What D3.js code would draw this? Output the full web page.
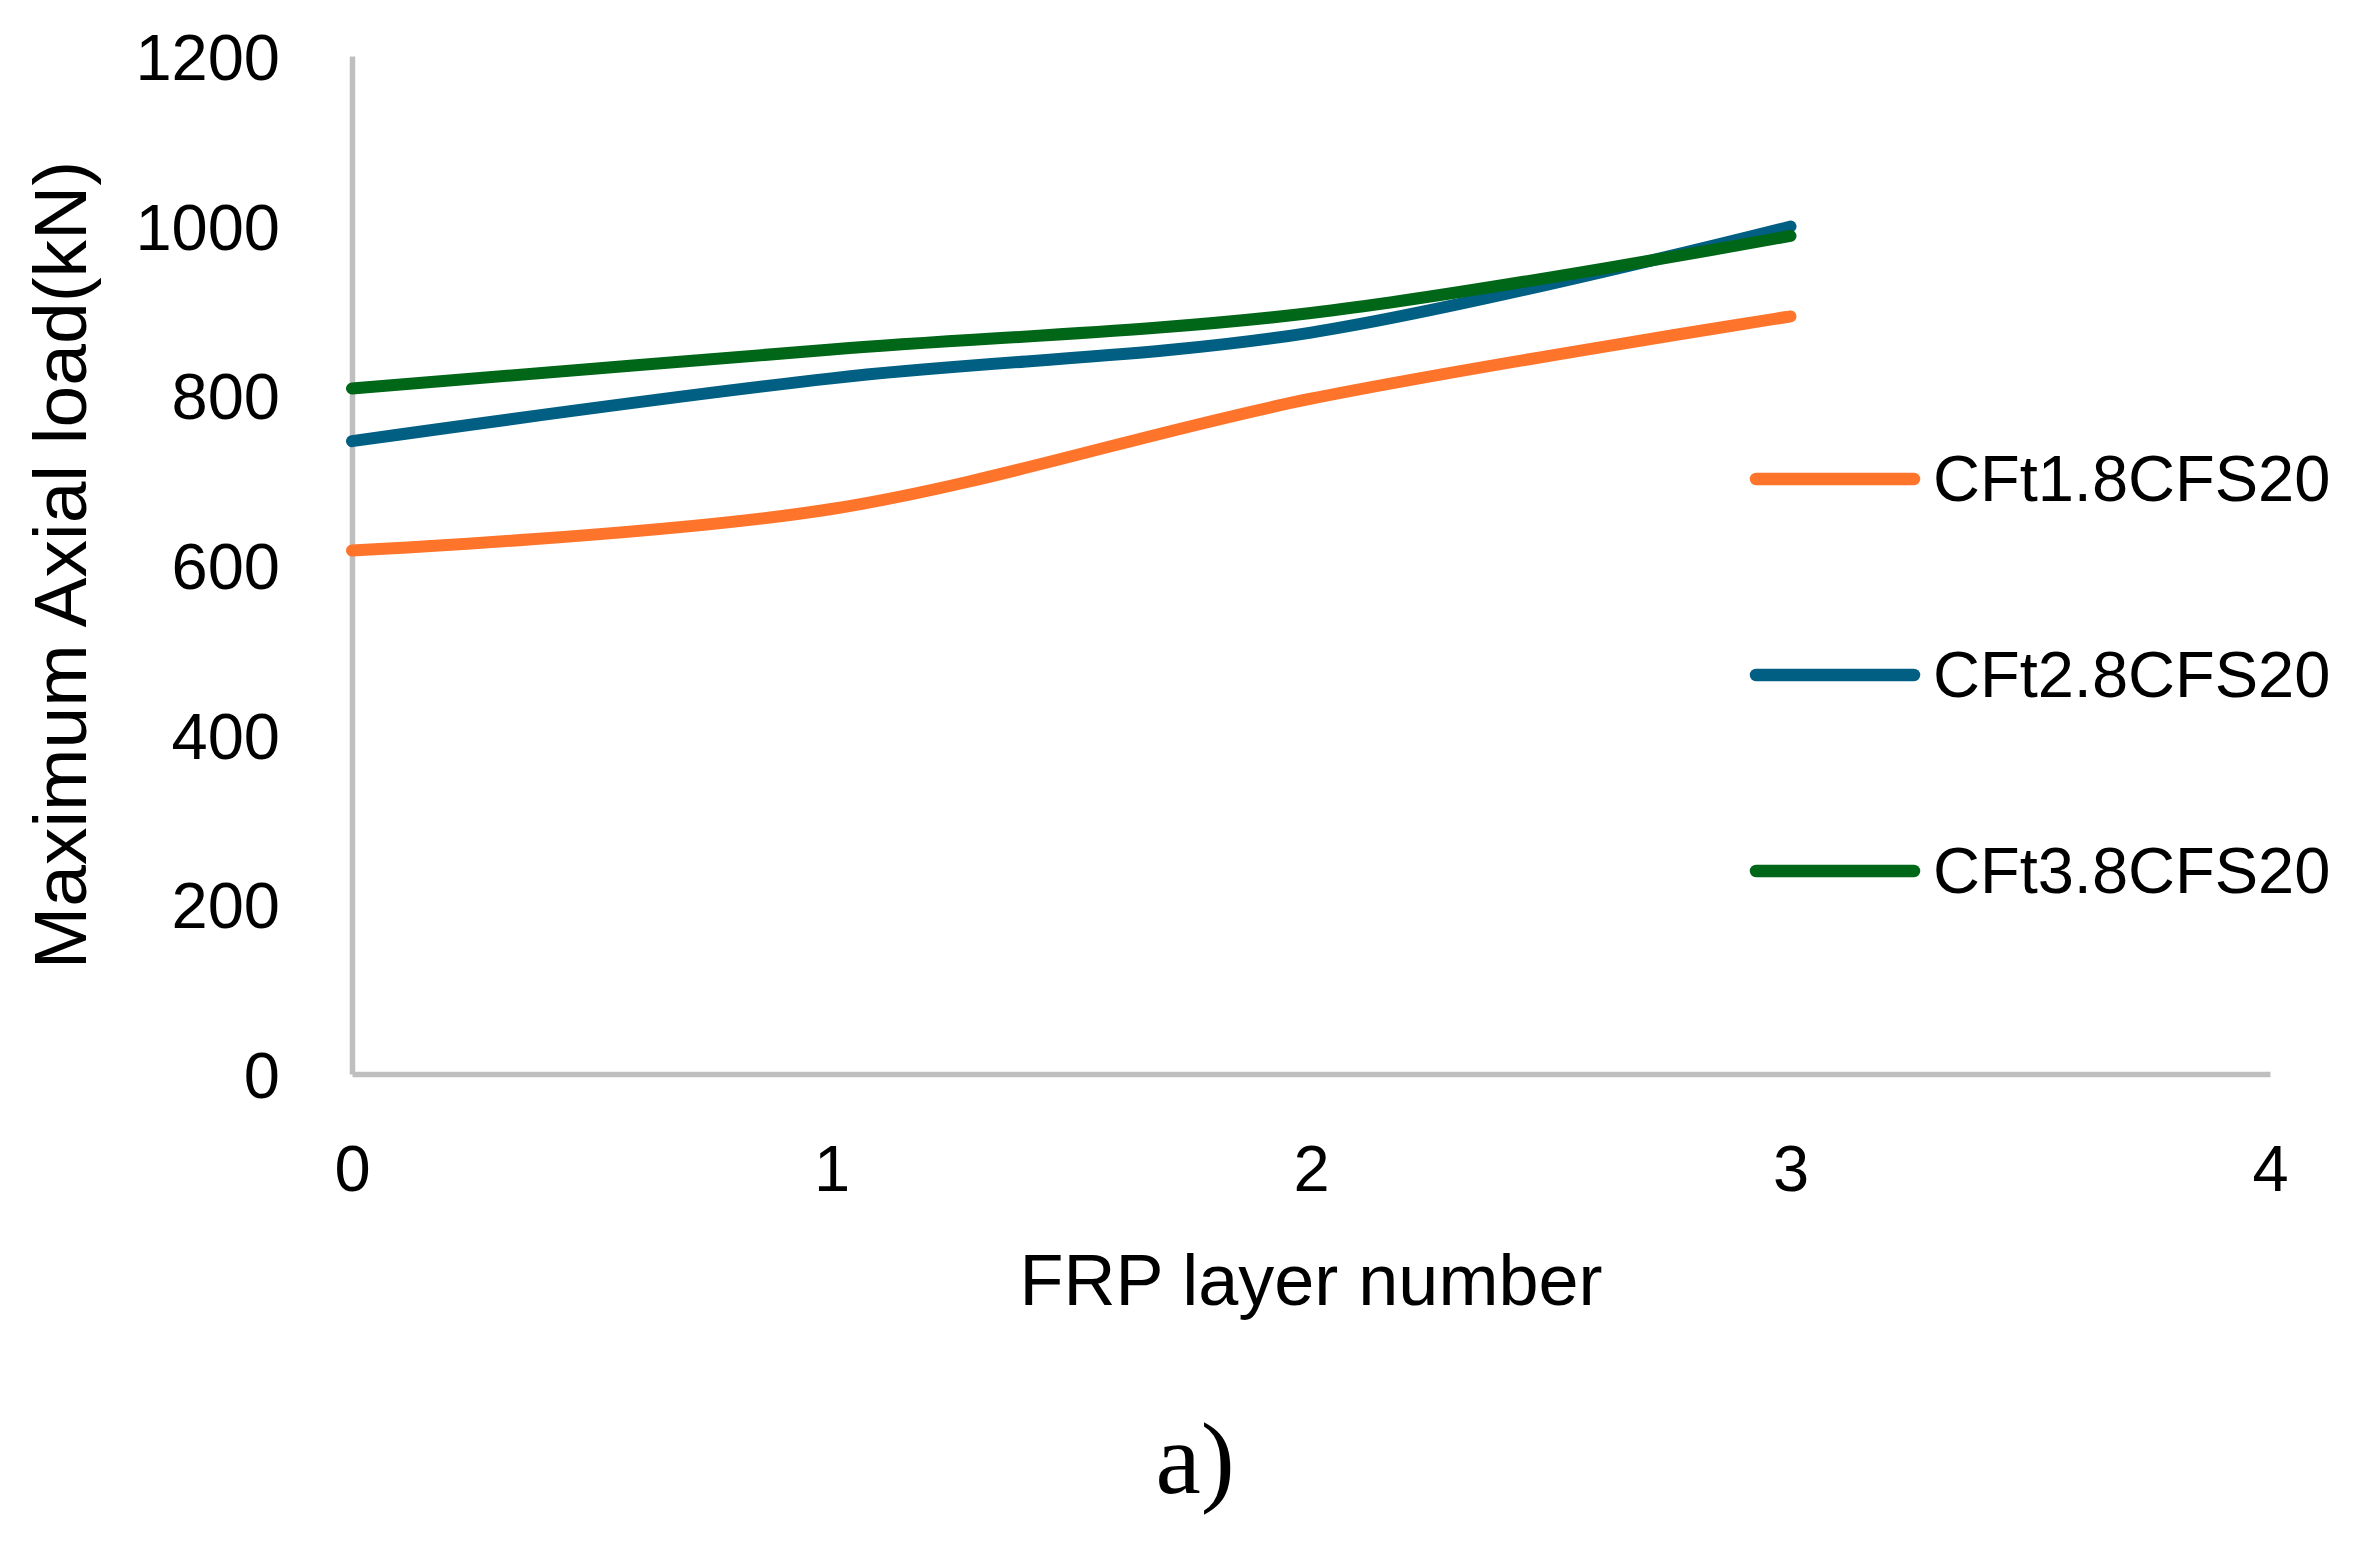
<!DOCTYPE html>
<html>
<head>
<meta charset="utf-8">
<script src="https://cdn.jsdelivr.net/npm/d3@7"></script>
<style>
  html, body { margin: 0; padding: 0; background: #ffffff; }
  svg { display: block; }
</style>
</head>
<body>
<div id="chart"></div>
<script>
// ---- data ----
const layers = [0, 1, 2, 3];
const seriesNames = ["CFt1.8CFS20", "CFt2.8CFS20", "CFt3.8CFS20"];
const cft1 = [617, 666, 796, 893];
const cft2 = [746, 820, 874, 999];
const cft3 = [808, 854, 897, 988];
const seriesColors = ["#FF742B", "#005F82", "#006618"];
const xTicks = [0, 1, 2, 3, 4];
const yTicks = [0, 200, 400, 600, 800, 1000, 1200];
const xTitle = "FRP layer number";
const yTitle = "Maximum Axial load(kN)";
const caption = "a)";

// ---- layout ----
const W = 2357, H = 1550;
const plot = { left: 352, right: 2270, top: 56, bottom: 1074 };
const font = "'Liberation Sans', Arial, sans-serif";

const svg = d3.select("#chart").append("svg")
  .attr("width", W).attr("height", H)
  .attr("viewBox", `0 0 ${W} ${H}`);

const x = d3.scaleLinear().domain([0, 4]).range([plot.left, plot.right]);
const y = d3.scaleLinear().domain([0, 1200]).range([plot.bottom, plot.top]);

const yAxis = svg.append("g")
  .attr("transform", `translate(${plot.left},0)`)
  .call(d3.axisLeft(y).tickValues(yTicks).tickSize(0).tickPadding(72).tickFormat(d3.format("d")));
yAxis.select(".domain").attr("stroke", "#BFBFBF").attr("stroke-width", 5.5);
yAxis.selectAll("text")
  .attr("font-family", font).attr("font-size", 65).attr("fill", "#000")
  .attr("dy", "0.36em");

const xAxis = svg.append("g")
  .attr("transform", `translate(0,${plot.bottom})`)
  .call(d3.axisBottom(x).tickValues(xTicks).tickSize(0).tickPadding(71).tickFormat(d3.format("d")));
xAxis.select(".domain").attr("stroke", "#BFBFBF").attr("stroke-width", 5.5);
xAxis.selectAll("text")
  .attr("font-family", font).attr("font-size", 65).attr("fill", "#000")
  .attr("dy", "0.71em");

// series
const allSeries = [cft1, cft2, cft3];
const line = d3.line()
  .x((d, i) => x(layers[i]))
  .y(d => y(d))
  .curve(d3.curveCardinal.tension(0));

svg.append("g").selectAll("path")
  .data(allSeries)
  .join("path")
  .attr("d", d => line(d))
  .attr("fill", "none")
  .attr("stroke", (d, i) => seriesColors[i])
  .attr("stroke-width", 12)
  .attr("stroke-linecap", "round")
  .attr("stroke-linejoin", "round");

// legend
const legendY = [479, 675, 871];
const leg = svg.append("g").selectAll("g")
  .data(seriesNames)
  .join("g")
  .attr("transform", (d, i) => `translate(1749,${legendY[i]})`);
leg.append("line")
  .attr("x1", 7).attr("x2", 165).attr("y1", 0).attr("y2", 0)
  .attr("stroke", (d, i) => seriesColors[i])
  .attr("stroke-width", 12.5)
  .attr("stroke-linecap", "round");
leg.append("text")
  .attr("x", 184).attr("y", 0).attr("dy", "0.34em")
  .attr("font-family", font).attr("font-size", 65).attr("fill", "#000")
  .text(d => d);

// axis titles
svg.append("text")
  .attr("x", (plot.left + plot.right) / 2).attr("y", 1305)
  .attr("text-anchor", "middle")
  .attr("font-family", font).attr("font-size", 72).attr("fill", "#000")
  .text(xTitle);

svg.append("text")
  .attr("transform", `translate(86,${(plot.top + plot.bottom) / 2}) rotate(-90)`)
  .attr("text-anchor", "middle")
  .attr("font-family", font).attr("font-size", 75).attr("fill", "#000")
  .text(yTitle);

// caption
svg.append("text")
  .attr("x", 1195).attr("y", 1493)
  .attr("text-anchor", "middle")
  .attr("font-family", "'Liberation Serif', 'Times New Roman', serif")
  .attr("font-size", 102).attr("fill", "#000")
  .text(caption);
</script>
</body>
</html>
